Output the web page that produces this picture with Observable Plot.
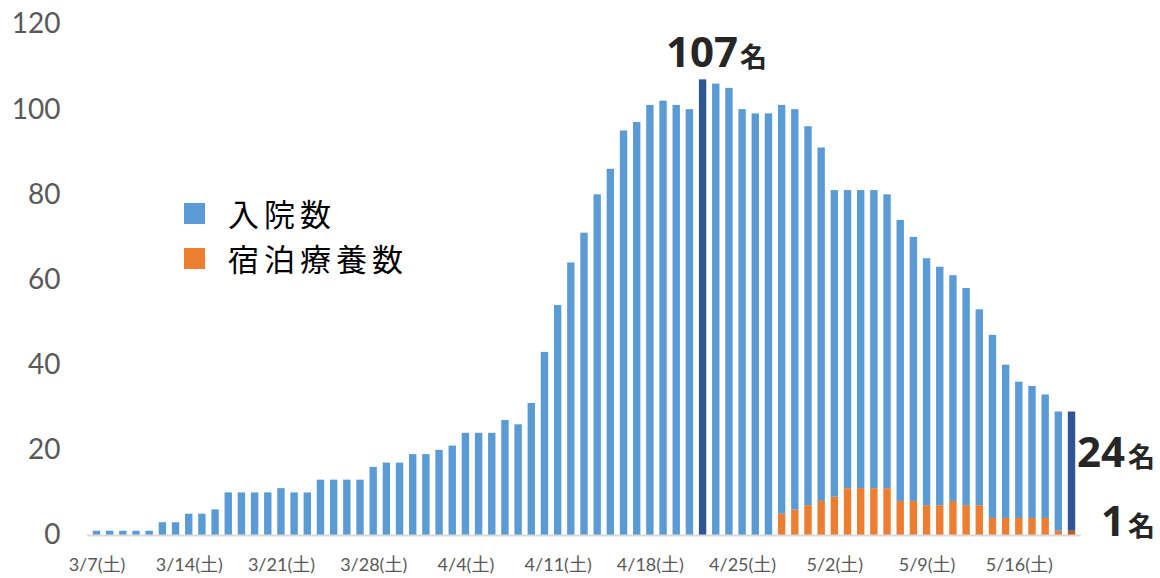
<!DOCTYPE html>
<html>
<head>
<meta charset="utf-8">
<script src="https://cdn.jsdelivr.net/npm/d3@7"></script>
<script src="https://cdn.jsdelivr.net/npm/@observablehq/plot@0.6"></script>
<style>
  body { margin: 0; background: #fff; }
  #wrap { position: relative; width: 1160px; height: 578px; overflow: hidden; }
  .legend { position: absolute; left: 184px; font-family: "Noto Sans CJK JP", sans-serif; font-size: 31px; letter-spacing: 5px; color: #000; display: flex; align-items: center; height: 40px; }
  .sw { display: inline-block; width: 21px; height: 21px; margin-right: 23px; }
  .lt { display: inline-block; height: 40px; line-height: 40px; overflow: visible; }
</style>
</head>
<body>
<div id="wrap"></div>
<script>
const dates = [
  "3/7","3/8","3/9","3/10","3/11","3/12","3/13","3/14","3/15","3/16","3/17","3/18","3/19","3/20",
  "3/21","3/22","3/23","3/24","3/25","3/26","3/27","3/28","3/29","3/30","3/31",
  "4/1","4/2","4/3","4/4","4/5","4/6","4/7","4/8","4/9","4/10","4/11","4/12","4/13","4/14","4/15",
  "4/16","4/17","4/18","4/19","4/20","4/21","4/22","4/23","4/24","4/25","4/26","4/27","4/28","4/29","4/30",
  "5/1","5/2","5/3","5/4","5/5","5/6","5/7","5/8","5/9","5/10","5/11","5/12","5/13","5/14","5/15",
  "5/16","5/17","5/18","5/19","5/20"
];
// 入院数
const hospital = [
  1,1,1,1,1,3,3,5,5,6,10,10,10,10,
  11,10,10,13,13,13,13,16,17,17,19,
  19,20,21,24,24,24,27,26,31,43,54,64,71,80,86,
  95,97,101,102,101,100,107,106,105,100,99,99,96,94,89,
  83,72,70,70,70,69,66,62,58,56,53,51,46,43,36,
  32,31,29,28,28
];
// 宿泊療養数
const hotel = [
  0,0,0,0,0,0,0,0,0,0,0,0,0,0,
  0,0,0,0,0,0,0,0,0,0,0,
  0,0,0,0,0,0,0,0,0,0,0,0,0,0,0,
  0,0,0,0,0,0,0,0,0,0,0,0,5,6,7,
  8,9,11,11,11,11,8,8,7,7,8,7,7,4,4,
  4,4,4,1,1
];
const highlightDates = ["4/22", "5/20"];
const tickDates = ["3/7","3/14","3/21","3/28","4/4","4/11","4/18","4/25","5/2","5/9","5/16"];
const yTicks = [0, 20, 40, 60, 80, 100, 120];
const seriesNames = ["入院数", "宿泊療養数"];
const seriesColors = ["#5b9bd5", "#ed7d31"];
const highlightColors = ["#2f5597", "#c55a11"];
const peakLabel = { date: "4/22", value: 107, num: "107", unit: "名" };
const lastLabels = [
  { date: "5/20", y: 16, num: "24", unit: "名" },
  { date: "5/20", y: 0, num: "1", unit: "名" }
];

const rows = [];
dates.forEach((d, i) => {
  rows.push({ date: d, series: seriesNames[1], value: hotel[i] });
  rows.push({ date: d, series: seriesNames[0], value: hospital[i] });
});
const colorOf = d => {
  const k = seriesNames.indexOf(d.series);
  return highlightDates.includes(d.date) ? highlightColors[k] : seriesColors[k];
};

const numFont = "'Open Sans', 'Noto Sans CJK JP', sans-serif";
const cjkFont = "'Noto Sans CJK JP', sans-serif";
const chart = Plot.plot({
  width: 1160,
  height: 578,
  marginLeft: 87,
  marginRight: 79,
  marginTop: 24,
  marginBottom: 43,
  style: { fontFamily: "Lato, 'Noto Sans CJK JP', sans-serif", background: "transparent" },
  x: { domain: dates, padding: 0.44, align: 0.5, round: false },
  y: { domain: [0, 120] },
  color: { type: "identity" },
  marks: [
    Plot.barY(rows, Plot.stackY({
      x: "date", y: "value", z: "series",
      order: [seriesNames[1], seriesNames[0]],
      fill: colorOf
    })),
    Plot.ruleY([0], { stroke: "#d9d9d9", strokeWidth: 2 }),
    Plot.axisY({ ticks: yTicks, tickSize: 0, tickPadding: 27, fontSize: 28, color: "#595959", label: null }),
    Plot.axisX({ ticks: tickDates, tickFormat: d => d + "(土)", tickSize: 0, tickPadding: 23, fontSize: 18, color: "#595959", label: null }),
    Plot.text([peakLabel], { x: "date", y: "value", text: "num", textAnchor: "end", lineAnchor: "bottom", dx: 35, dy: -13, fontSize: 42, fontWeight: "bold", fill: "#262626", fontFamily: numFont }),
    Plot.text([peakLabel], { x: "date", y: "value", text: "unit", textAnchor: "start", lineAnchor: "bottom", dx: 37, dy: -13, fontSize: 27, fontWeight: "bold", fill: "#262626", fontFamily: cjkFont }),
    Plot.text(lastLabels, { x: "date", y: "y", text: "num", textAnchor: "end", lineAnchor: "bottom", dx: 53, fontSize: 42, fontWeight: "bold", fill: "#262626", fontFamily: numFont }),
    Plot.text(lastLabels, { x: "date", y: "y", text: "unit", textAnchor: "start", lineAnchor: "bottom", dx: 56, fontSize: 27, fontWeight: "bold", fill: "#262626", fontFamily: cjkFont })
  ]
});
const wrap = document.getElementById("wrap");
wrap.appendChild(chart);

seriesNames.forEach((name, i) => {
  const div = document.createElement("div");
  div.className = "legend";
  div.style.top = (193 + i * 45) + "px";
  const sw = document.createElement("span");
  sw.className = "sw";
  sw.style.background = seriesColors[i];
  const t = document.createElement("span");
  t.className = "lt";
  t.textContent = name;
  div.appendChild(sw);
  div.appendChild(t);
  wrap.appendChild(div);
});
</script>
</body>
</html>
